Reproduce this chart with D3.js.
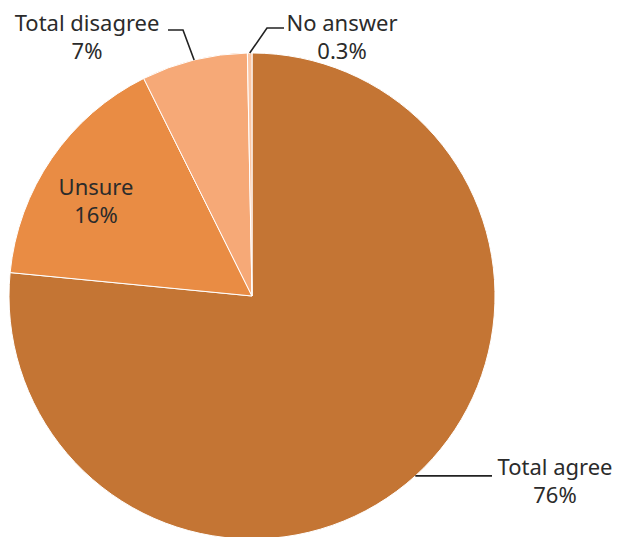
<!DOCTYPE html>
<html>
<head>
	<style>
		html, body { margin: 0; background: white; }
		svg text { font-family: "Noto Sans", sans-serif; fill: #2b2b2b; }
	</style>
</head>
<body>
<svg class="diagram" width="620" height="537"></svg>

<script src="https://d3js.org/d3.v7.min.js"></script>
<script>

var categories = ['Total agree', 'Unsure', 'Total disagree', 'No answer']
var values = [76, 16, 7, 0.3]
var valueLabels = ['76%', '16%', '7%', '0.3%']
var colours = ['#c47534', '#e98c44', '#f6a977', '#fbc6a4']

var cfg = {
	cx: 252,
	cy: 296,
	radius: 243,
	textSize: 22,
	lineGap: 28
}

var svg = d3.select('.diagram')
var g = svg.append('g')
	.attr('transform', 'translate(' + cfg.cx + ',' + cfg.cy + ')')

var pie = d3.pie().sort(null).value(function(d) { return d.value })
var slices = pie(categories.map(function(c, i) {
	return { name: c, value: values[i], label: valueLabels[i], colour: colours[i] }
}))

var arc = d3.arc().innerRadius(0).outerRadius(cfg.radius)

g.selectAll('.slice')
	.data(slices)
	.enter().append('path')
		.attr('class', 'slice')
		.attr('d', arc)
		.attr('fill', function(d) { return d.data.colour })
		.attr('stroke', 'white')
		.attr('stroke-width', 1)

// point on the rim at the middle of a slice
function rim(d) {
	var a = (d.startAngle + d.endAngle) / 2
	return [cfg.radius * Math.sin(a), -cfg.radius * Math.cos(a)]
}

// label layout: text centre (relative to pie centre) and leader path
var layout = {
	'Total agree': { text: [303, 179], leader: function(p) { return [p, [240, p[1]]] } },
	'Unsure': { text: [-156, -101], leader: null },
	'Total disagree': { text: [-165, -265], leader: function(p) { return [p, [-69, -266], [-84, -266]] } },
	'No answer': { text: [90, -265], leader: function(p) { return [p, [15, -268], [32, -268]] } }
}

var line = d3.line()

slices.forEach(function(d) {
	var l = layout[d.data.name]
	if (l.leader) {
		g.append('path')
			.attr('d', line(l.leader(rim(d))))
			.attr('fill', 'none')
			.attr('stroke', '#222')
			.attr('stroke-width', 1.6)
	}
	// name and value as two separate lines
	g.append('text')
		.attr('text-anchor', 'middle')
		.attr('font-size', cfg.textSize)
		.attr('x', l.text[0])
		.attr('y', l.text[1])
		.text(d.data.name)
	g.append('text')
		.attr('text-anchor', 'middle')
		.attr('font-size', cfg.textSize)
		.attr('x', l.text[0])
		.attr('y', l.text[1] + cfg.lineGap)
		.text(d.data.label)
})

</script>
</body>
</html>
